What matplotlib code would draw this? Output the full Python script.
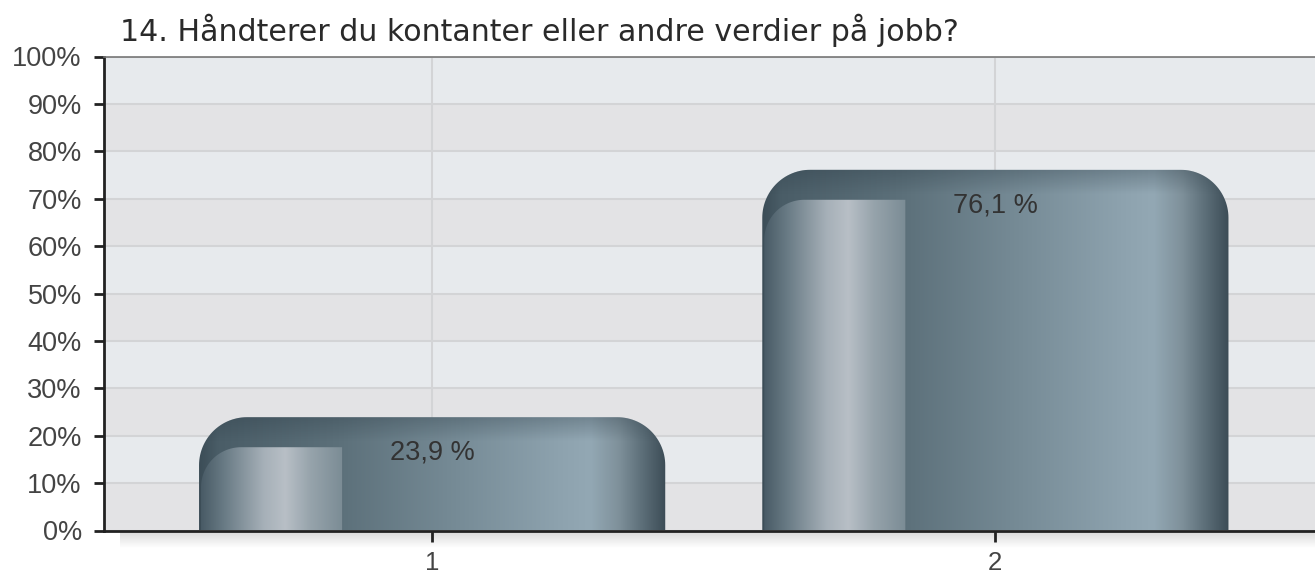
import numpy as np
import matplotlib
matplotlib.use("Agg")
import matplotlib.pyplot as plt
from matplotlib.path import Path
from matplotlib.patches import PathPatch
from matplotlib.colors import LinearSegmentedColormap, to_rgb

# ---- data ----
title = "14. Håndterer du kontanter eller andre verdier på jobb?"
categories = ["1", "2"]
values = [23.9, 76.1]
labels = ["23,9 %", "76,1 %"]
yticks = list(range(0, 101, 10))
ytick_labels = [f"{v}%" for v in yticks]

plt.rcParams['font.family'] = ['Liberation Sans', 'DejaVu Sans']

W, H = 1315, 578
fig = plt.figure(figsize=(W / 100, H / 100), dpi=100)
fig.patch.set_facecolor("white")

ax_l, ax_r, ax_t, ax_b = 104, 1315, 56.5, 530.5
ax = fig.add_axes([ax_l / W, (H - ax_b) / H, (ax_r - ax_l) / W, (ax_b - ax_t) / H])
xpos = np.arange(1, len(categories) + 1)
px_per_unit = 563.0
XLIM = (1 - (432 - ax_l) / px_per_unit, 2 + (ax_r - 995.5) / px_per_unit)
ax.set_xlim(*XLIM)
ax.set_ylim(0, 100)
ax.set_facecolor("#e3e3e5")

# shadow under x axis
sh = fig.add_axes([120 / W, (H - 548) / H, (W - 120) / W, 17 / H])
grad = np.linspace(0, 1, 50)[:, None]
sh_rgb = np.array(to_rgb("#d9d9d9"))[None, None, :] * (1 - grad[..., None]) + np.ones(3)[None, None, :] * grad[..., None]
sh.imshow(sh_rgb, aspect="auto", extent=[0, 1, 0, 1])
sh.axis("off")
sh.set_zorder(-1)

# alternating background bands
for lo in range(10, 100, 20):
    ax.axhspan(lo, lo + 10, color="#e7eaed", zorder=0.2, linewidth=0)

ax.set_axisbelow(True)
ax.set_yticks(yticks)
ax.set_yticklabels(ytick_labels)
ax.set_xticks(xpos)
ax.set_xticklabels(categories)
ax.grid(True, color="#d3d4d6", linewidth=1.5, zorder=0.5)
ax.tick_params(axis="y", length=7, width=2, color="#222222", labelsize=19.5,
               labelcolor="#444444", pad=9)
ax.tick_params(axis="x", length=8, width=2, color="#222222", labelsize=18.5,
               labelcolor="#444444", pad=7)
for s in ["left", "bottom"]:
    ax.spines[s].set_color("#222222")
    ax.spines[s].set_linewidth(2)
ax.spines["top"].set_color("#777777")
ax.spines["top"].set_linewidth(1.2)
ax.spines["right"].set_visible(False)

# pixel scales
x_px = px_per_unit
y_px = (ax_b - ax_t) / 100.0


def rounded_path(x0, x1, h, r_left, r_right, npts=30):
    rxl, ryl = r_left / x_px, r_left / y_px
    rxr, ryr = r_right / x_px, r_right / y_px
    verts = [(x0, 0)]
    if r_left > 0:
        t = np.linspace(np.pi, np.pi / 2, npts)
        cx, cy = x0 + rxl, h - ryl
        verts += list(zip(cx + rxl * np.cos(t), cy + ryl * np.sin(t)))
    else:
        verts.append((x0, h))
    if r_right > 0:
        t = np.linspace(np.pi / 2, 0, npts)
        cx, cy = x1 - rxr, h - ryr
        verts += list(zip(cx + rxr * np.cos(t), cy + ryr * np.sin(t)))
    else:
        verts.append((x1, h))
    verts.append((x1, 0))
    verts.append((x0, 0))
    codes = [Path.MOVETO] + [Path.LINETO] * (len(verts) - 2) + [Path.CLOSEPOLY]
    return Path(verts, codes)


outer_cmap = LinearSegmentedColormap.from_list("outer", [
    (0.0, "#3c4d57"), (0.04, "#4a5d67"), (0.30, "#5c707a"), (0.55, "#768b96"),
    (0.78, "#8ea3af"), (0.84, "#93a8b4"), (0.90, "#7f919b"), (0.95, "#5d6f79"),
    (1.0, "#3d4d57")])
inner_cmap = LinearSegmentedColormap.from_list("inner", [
    (0.0, "#465863"), (0.18, "#6a7c86"), (0.45, "#a6b0b8"), (0.6, "#b8bfc6"),
    (0.78, "#96a3ab"), (1.0, "#7b8c95")])

bar_w = 466 / px_per_unit
hgrad = np.linspace(0, 1, 256)[None, :]

for xc, v, lab in zip(xpos, values, labels):
    x0, x1 = xc - bar_w / 2, xc + bar_w / 2
    # outer body
    p = rounded_path(x0, x1, v, 48, 48)
    patch = PathPatch(p, facecolor="none", edgecolor="none")
    ax.add_patch(patch)
    im = ax.imshow(hgrad, cmap=outer_cmap, aspect="auto", extent=[x0, x1, 0, v],
                   zorder=2, interpolation="bicubic")
    im.set_clip_path(patch)
    # darker top band
    band_h = 24 / y_px
    a = np.linspace(0.32, 0.0, 60)[:, None]
    band = np.zeros((60, 1, 4))
    band[..., 0:3] = to_rgb("#2e3e48")
    band[..., 3] = a
    im2 = ax.imshow(band, aspect="auto", extent=[x0, x1, v - band_h, v],
                    zorder=2.1, origin="upper", interpolation="bicubic")
    im2.set_clip_path(patch)
    # inner highlight panel
    ih = v - 30 / y_px
    ix1 = x0 + 143 / px_per_unit
    ip = rounded_path(x0 + 2 / px_per_unit, ix1, ih, 40, 0)
    ipatch = PathPatch(ip, facecolor="none", edgecolor="none")
    ax.add_patch(ipatch)
    im3 = ax.imshow(hgrad, cmap=inner_cmap, aspect="auto",
                    extent=[x0, ix1, 0, ih], zorder=2.2, interpolation="bicubic")
    im3.set_clip_path(ipatch)
    # label
    ax.annotate(lab, (xc, v), xytext=(0, -25.5), textcoords="offset points",
                ha="center", va="center", fontsize=19.5, color="#333333", zorder=5)

ax.set_xlim(*XLIM)
ax.set_ylim(0, 100)

# title, sized so its width matches the reference (x 120 -> 957 px)
t = fig.text(120 / W, 1 - 30 / H, title, ha="left", va="center", fontsize=20,
             color="#2a2a2a", family=["DejaVu Sans"])
r = fig.canvas.get_renderer()
w = t.get_window_extent(r).width
t.set_fontsize(20 * 837.0 / w)

fig.savefig("out.png", dpi=100)
